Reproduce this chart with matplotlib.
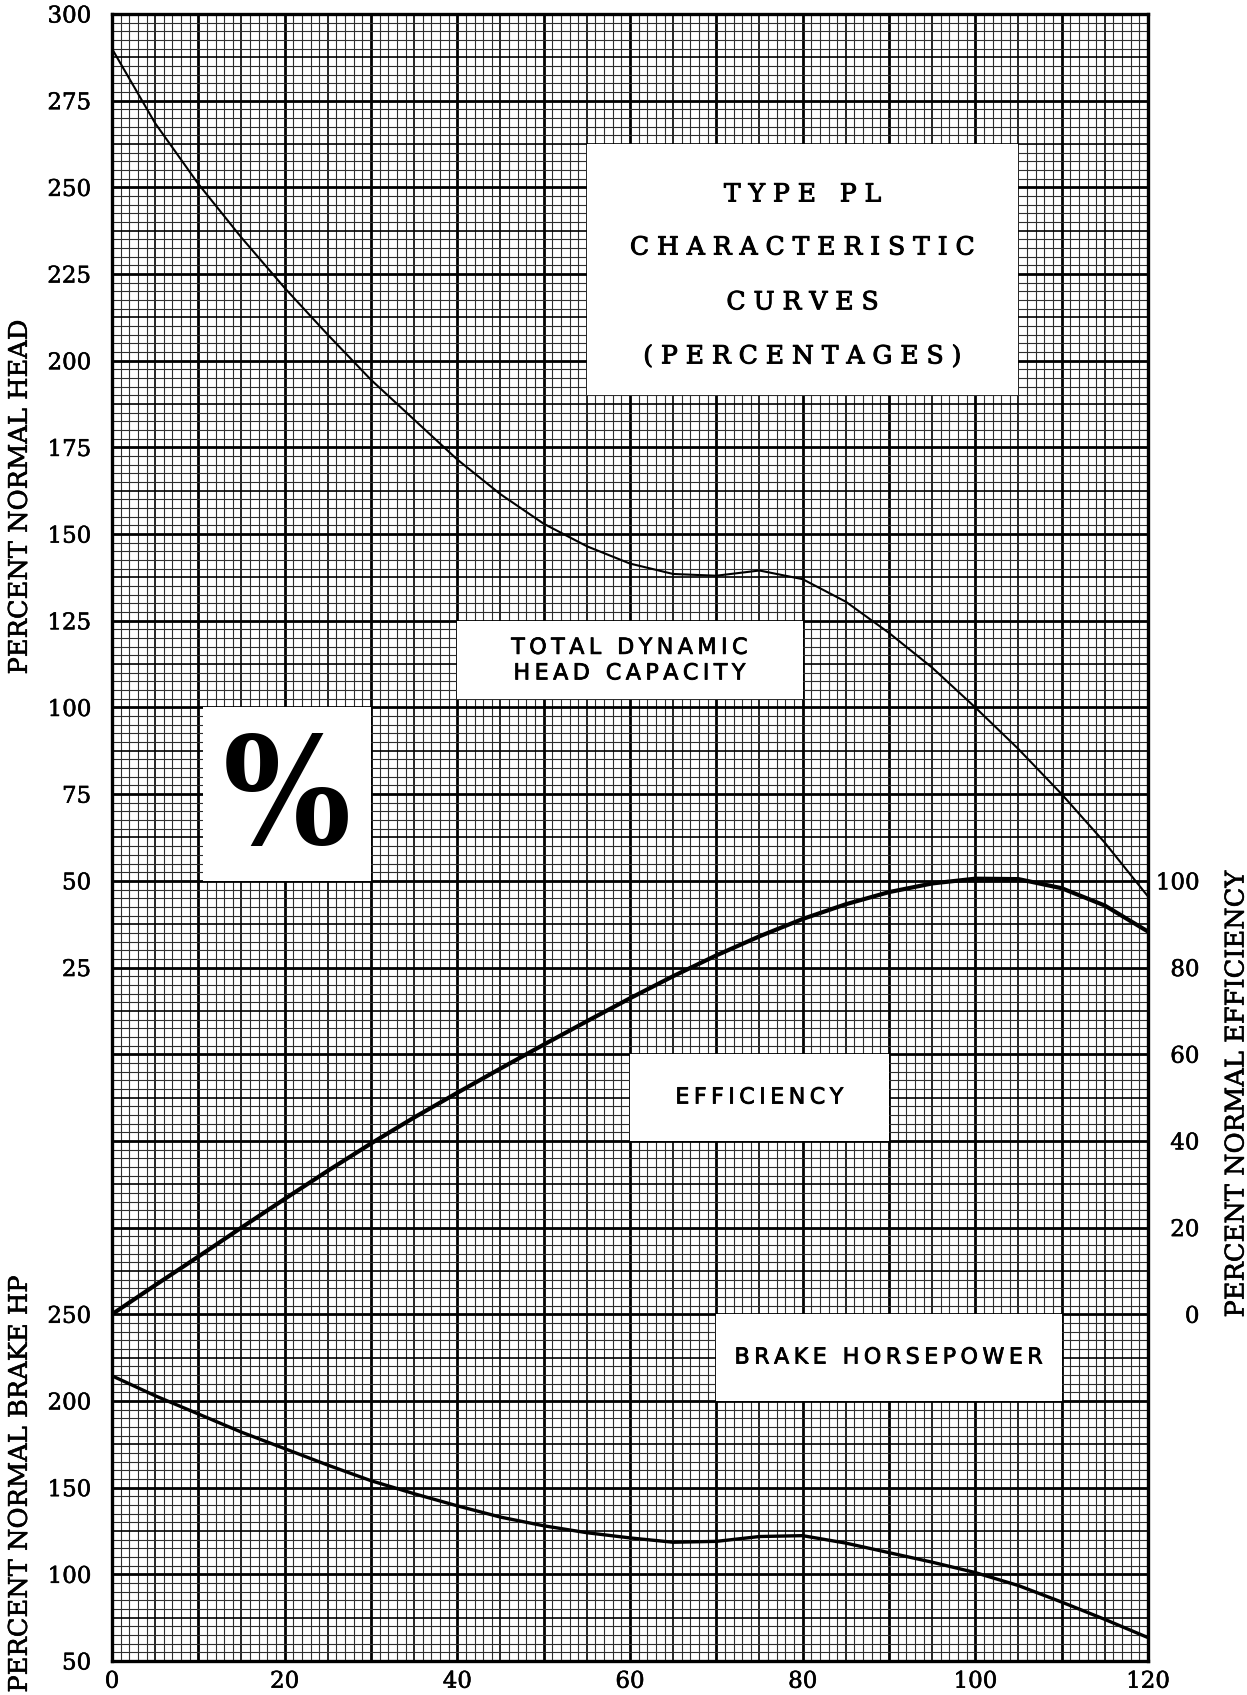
import os
import numpy as np
import matplotlib
matplotlib.use("Agg")
import matplotlib.pyplot as plt
import matplotlib.patheffects as pe
from matplotlib.patches import Rectangle
from matplotlib import font_manager as fm

# percent normal capacity (x axis)
capacity = [0, 5, 10, 15, 20, 25, 30, 35, 40, 45, 50, 55, 60,
            65, 70, 75, 80, 85, 90, 95, 100, 105, 110, 115, 120]
head = [290, 268.5, 251, 235.5, 221, 207.5, 194.5, 183, 171.5, 161.5, 153, 146.5, 141.5,
        138.5, 138, 139.5, 137, 130.5, 121.5, 111.5, 100, 88, 75, 61, 45.5]
efficiency = [0, 6.7, 13.3, 20, 26.6, 33.1, 39.4, 45.4, 51.1, 56.7, 62.2, 67.6, 72.9,
              78.0, 82.8, 87.2, 91.2, 94.6, 97.4, 99.4, 100.5, 100.4, 98.3, 94.3, 88.3]
brake_hp = [214.5, 203, 192.5, 182, 172.5, 163, 154, 146.5, 139.5, 133, 128, 124, 121,
            118.5, 119, 121.8, 122.3, 118, 112.5, 107, 101, 93.5, 84, 74, 63.5]

head_ticks = [25, 50, 75, 100, 125, 150, 175, 200, 225, 250, 275, 300]
eff_ticks = [0, 20, 40, 60, 80, 100]
bhp_ticks = [50, 100, 150, 200, 250]
x_ticks = [0, 20, 40, 60, 80, 100, 120]

plt.rcParams['font.family'] = ['DejaVu Serif']

fig = plt.figure(figsize=(12.47, 16.95), dpi=100)
ax = fig.add_axes([0.0898, 0.02006, 0.8308, 0.97168])
ax.set_xlim(0, 120)
ax.set_ylim(-175, 300)

# graph paper
for v in np.arange(0, 121, 1):
    if v % 10 == 0:
        ax.axvline(v, color='black', lw=2.0, zorder=1)
    elif v % 5 == 0:
        ax.axvline(v, color='black', lw=1.2, zorder=1)
    else:
        ax.axvline(v, color='0.18', lw=0.8, zorder=1)
for k, h in enumerate(np.arange(-175, 300.1, 2.5)):
    if k % 10 == 0:
        ax.axhline(h, color='black', lw=2.0, zorder=1)
    elif k % 5 == 0:
        ax.axhline(h, color='black', lw=1.2, zorder=1)
    else:
        ax.axhline(h, color='0.18', lw=0.8, zorder=1)

for s in ax.spines.values():
    s.set_linewidth(2.4)

heavy = [pe.withStroke(linewidth=0.7, foreground='black')]
light = [pe.withStroke(linewidth=0.4, foreground='black')]

ax.set_xticks(x_ticks)
ax.set_yticks(head_ticks)
ax.tick_params(axis='both', length=0, labelsize=16.5)
ax.tick_params(axis='y', pad=15)
ax.tick_params(axis='x', pad=7)

# efficiency axis (right)
ax_eff = ax.twinx()
ax_eff.set_ylim(-80, 300)
ax_eff.set_yticks(eff_ticks)
ax_eff.tick_params(axis='y', length=0, labelsize=16.5, pad=37)
for lbl in ax_eff.get_yticklabels():
    lbl.set_horizontalalignment('right')
for s in ax_eff.spines.values():
    s.set_visible(False)

# brake horsepower axis (left, lower part)
ax_bhp = ax.twinx()
ax_bhp.set_ylim(50, 1000)
ax_bhp.yaxis.set_ticks_position('left')
ax_bhp.set_yticks(bhp_ticks)
ax_bhp.tick_params(axis='y', length=0, labelsize=16.5, pad=15)
for s in ax_bhp.spines.values():
    s.set_visible(False)

for a in (ax, ax_eff, ax_bhp):
    for lbl in a.get_xticklabels() + a.get_yticklabels():
        lbl.set_path_effects(light)

# white label boxes
boxes = [(55, 190, 50, 72.5), (40, 102.5, 40, 22.5), (10.5, 50, 19.5, 50),
         (60, -25, 30, 25), (70, -100, 40, 25)]
for bx, by, bw, bh in boxes:
    ax.add_patch(Rectangle((bx, by), bw, bh, facecolor='white', edgecolor='none', zorder=2))

title_lines = ["T Y P E   P L", "C H A R A C T E R I S T I C", "C U R V E S",
               "( P E R C E N T A G E S )"]
for line, yy in zip(title_lines, [247.8, 232.5, 216.7, 201.1]):
    ax.text(80, yy, line, ha='center', va='center', fontsize=18,
            family='DejaVu Serif', zorder=4, path_effects=heavy)


def spaced(s):
    # thin space between letters, like the wide lettering of the original
    return '\n'.join('\u2009'.join(w) for w in s.split('\n'))


sans = dict(ha='center', va='center', fontsize=16, family='DejaVu Sans',
            zorder=4, path_effects=[pe.withStroke(linewidth=0.55, foreground='black')])
ax.text(60, 113.5, spaced("TOTAL DYNAMIC\nHEAD CAPACITY"), linespacing=1.35, **sans)
ax.text(75, -12.5, spaced("EFFICIENCY"), **sans)
ax.text(90, -87.5, spaced("BRAKE HORSEPOWER"), **sans)

# big percent sign, condensed serif bold if installed
pct_font = dict(family='DejaVu Serif', weight='bold')
installed = {os.path.basename(f.fname): f.fname for f in fm.fontManager.ttflist}
for base in ('DejaVuSerifCondensed-Bold.ttf', 'LiberationSansNarrow-Bold.ttf',
             'RobotoCondensed-Bold.ttf', 'DejaVuSansCondensed-Bold.ttf'):
    if base in installed:
        pct_font = dict(fname=installed[base])
        break
pct = ax.text(20.25, 72.5, '%', ha='center', va='center', zorder=4,
              fontproperties=fm.FontProperties(size=100, **pct_font))
fig.canvas.draw()
bb = pct.get_window_extent(fig.canvas.get_renderer())
pct.set_fontsize(min(120, 100 * 128 / bb.width))

# curves
ax.plot(capacity, head, color='black', lw=1.5, zorder=5)
ax_eff.plot(capacity, efficiency, color='black', lw=3.0, zorder=5)
ax_bhp.plot(capacity, brake_hp, color='black', lw=2.4, zorder=5)

lab = dict(rotation=90, ha='center', va='center', fontsize=18.5, path_effects=light)
fig.text(0.0155, 0.7068, "PERCENT NORMAL HEAD", **lab)
fig.text(0.0155, 0.1245, "PERCENT NORMAL BRAKE HP", **lab)
fig.text(0.9912, 0.3546, "PERCENT NORMAL EFFICIENCY", **lab)

fig.savefig('out.png', dpi=100)
